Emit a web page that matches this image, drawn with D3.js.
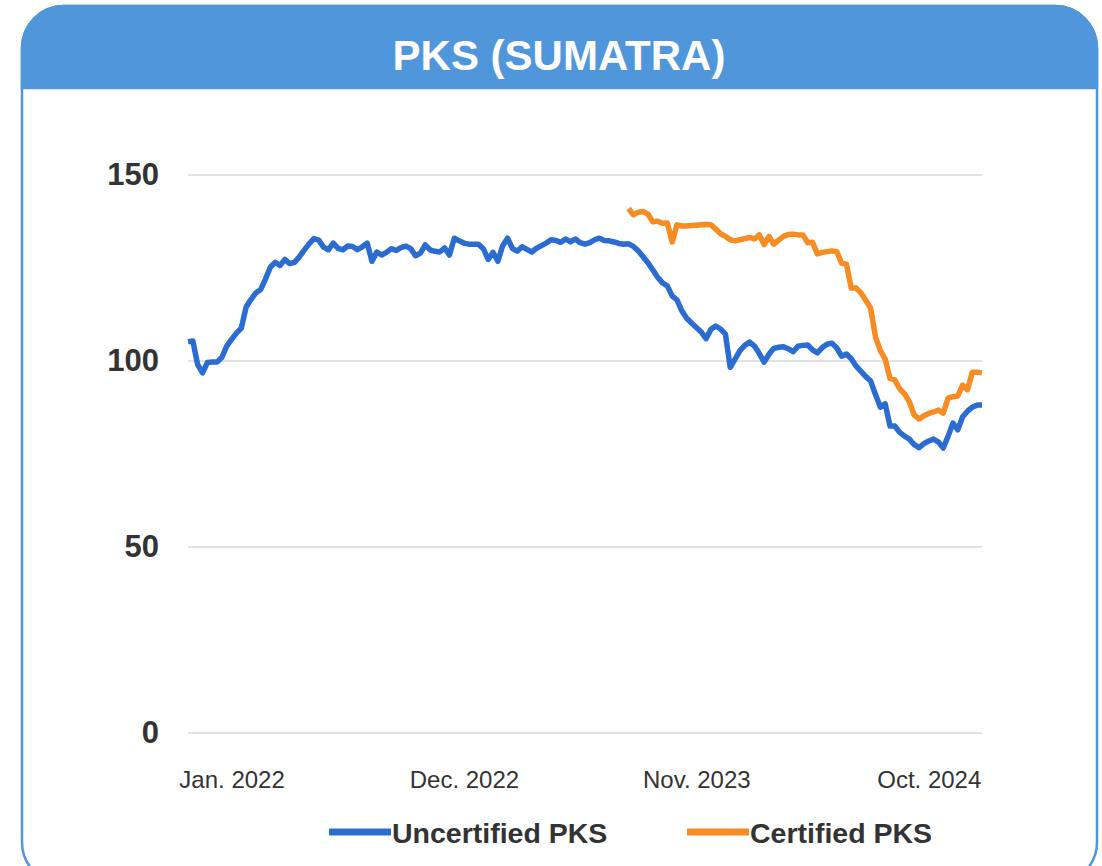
<!DOCTYPE html>
<html>
<head>
<meta charset="utf-8">
<script src="https://cdn.jsdelivr.net/npm/d3@7"></script>
<style>
  html, body { margin: 0; padding: 0; background: #ffffff; }
  svg { display: block; }
</style>
</head>
<body>
<div id="chart"></div>
<script>
// ---- DATA ----
const title = "PKS (SUMATRA)";
const seriesNames = ["Uncertified PKS", "Certified PKS"];
const firstWeek = "2021-11-01";           // weekly categories start
const weekCount = 165;
const tickIndices = [9, 57, 105, 153];
const tickLabels = ["Jan. 2022", "Dec. 2022", "Nov. 2023", "Oct. 2024"];
const yTicks = [0, 50, 100, 150];

const uncertified = [
  105.2, 105.4, 99, 96.8, 99.6, 99.7, 99.7, 101, 104, 105.8,
  107.5, 108.8, 114.5, 116.5, 118.3, 119.2, 122, 125.2, 126.5, 125.7,
  127.3, 126.2, 126.5, 128, 129.8, 131.5, 132.9, 132.5, 130.6, 129.9,
  131.7, 130.3, 129.9, 130.9, 130.8, 129.9, 130.7, 131.7, 126.8, 129.3,
  128.5, 129.2, 130.2, 129.7, 130.5, 130.9, 130.2, 128.3, 129, 131.2,
  129.9, 129.5, 129.3, 130.4, 128.5, 133, 132.3, 131.7, 131.4, 131.4,
  131.4, 130.2, 127.3, 129.2, 126.8, 131, 133, 130.3, 129.5, 130.7,
  130, 129.3, 130.3, 131, 131.7, 132.6, 132.4, 131.9, 132.8, 132,
  132.8, 131.8, 131.4, 131.8, 132.6, 133, 132.4, 132.3, 132, 131.6,
  131.4, 131.5, 130.8, 129.6, 128, 126.4, 124.5, 122.5, 121, 120.2,
  117.5, 116.4, 113.5, 111.5, 110.2, 109, 107.8, 106, 108.5, 109.4,
  108.6, 107.2, 98.3, 100.5, 102.8, 104.2, 105.1, 104, 102, 99.7,
  101.8, 103.4, 103.7, 103.8, 103.3, 102.5, 104, 104.2, 104.3, 103,
  102.2, 103.6, 104.5, 104.8, 103.5, 101.3, 101.9, 100.6, 98.6, 97.2,
  95.8, 94.6, 91, 87.6, 88.5, 82.5, 82.5, 80.8, 79.8, 79,
  77.5, 76.7, 77.8, 78.5, 79, 78.2, 76.6, 79.8, 83.3, 81.5,
  85, 86.5, 87.6, 88.2, 88.2
];

const certifiedStart = 91;   // first week with a certified price
const certified = [
  141, 139.3, 140, 140.2, 139.5, 137.4, 137.6, 137, 137.1,
  132, 136.6, 136.3, 136.3, 136.4, 136.5, 136.6, 136.7, 136.6, 135.5,
  134.2, 133.5, 132.6, 132.3, 132.6, 132.9, 133.2, 132.8, 133.9, 131.3,
  133.5, 131.4, 132.5, 133.5, 134, 134.1, 133.9, 133.9, 131.8, 131.9,
  128.8, 129.2, 129.4, 129.6, 129.4, 126.3, 126, 119.6, 119.6, 118.3,
  116.3, 114.2, 106.5, 102.8, 100.5, 95.3, 94.9, 92.5, 91.2, 89,
  85.5, 84.4, 85.3, 85.9, 86.3, 86.8, 86, 90, 90.4, 90.6,
  93.5, 92.3, 97, 97, 96.8
];

const colors = ["#2B6CD0", "#F68C22"];

// ---- BUILD ----
const W = 1102, H = 866;
const weeks = d3.timeWeek.every(1).range(new Date(firstWeek + "T00:00:00"),
  d3.timeDay.offset(new Date(firstWeek + "T00:00:00"), weekCount * 7));
const fmt = d3.timeFormat("%Y-%m-%d");
const cats = weeks.slice(0, weekCount).map(fmt);

const rows = cats.map((c, i) => ({
  cat: c,
  u: uncertified[i],
  c: i >= certifiedStart ? certified[i - certifiedStart] : null
}));

const svg = d3.select("#chart").append("svg")
  .attr("width", W).attr("height", H);

const font = "'Liberation Sans', Arial, Helvetica, sans-serif";
const textCol = "#333333";

// card
const cardX = 22, cardY = 6, cardW = 1075, cardH = 878, r = 42, headH = 82;
svg.append("rect")
  .attr("x", cardX).attr("y", cardY).attr("width", cardW).attr("height", cardH)
  .attr("rx", r).attr("ry", r)
  .attr("fill", "#ffffff").attr("stroke", "#5096DA").attr("stroke-width", 2.5);

// header with rounded top corners
const hp = d3.path();
hp.moveTo(cardX, cardY + headH);
hp.lineTo(cardX, cardY + r);
hp.arcTo(cardX, cardY, cardX + r, cardY, r);
hp.lineTo(cardX + cardW - r, cardY);
hp.arcTo(cardX + cardW, cardY, cardX + cardW, cardY + r, r);
hp.lineTo(cardX + cardW, cardY + headH);
hp.closePath();
svg.append("path").attr("d", hp.toString()).attr("fill", "#5096DA")
  .attr("stroke", "#5096DA").attr("stroke-width", 2.5);

svg.append("text")
  .attr("x", 559).attr("y", 70)
  .attr("text-anchor", "middle")
  .attr("font-family", font).attr("font-weight", "bold")
  .attr("font-size", 42).attr("fill", "#ffffff")
  .text(title);

// scales
const x = d3.scalePoint().domain(cats).range([188, 982]);
const y = d3.scaleLinear().domain([0, 150]).range([733, 175]);

// gridlines
svg.append("g")
  .selectAll("line").data(yTicks).join("line")
  .attr("x1", 188).attr("x2", 982)
  .attr("y1", d => y(d)).attr("y2", d => y(d))
  .attr("stroke", "#D9D9D9").attr("stroke-width", 1.3);

// y axis
const yAxis = svg.append("g")
  .attr("transform", "translate(159,0)")
  .call(d3.axisLeft(y).tickValues(yTicks).tickSize(0).tickPadding(0));
yAxis.select(".domain").remove();
yAxis.selectAll("text")
  .attr("font-family", font).attr("font-weight", "bold")
  .attr("font-size", 31).attr("fill", textCol);

// x axis
const xAxis = svg.append("g")
  .attr("transform", "translate(0,771)")
  .call(d3.axisBottom(x)
    .tickValues(tickIndices.map(i => cats[i]))
    .tickFormat((d, i) => tickLabels[i])
    .tickSize(0).tickPadding(0));
xAxis.select(".domain").remove();
xAxis.selectAll("text")
  .attr("font-family", font).attr("font-size", 24).attr("fill", textCol);

// lines
const lineU = d3.line().x(d => x(d.cat)).y(d => y(d.u));
const lineC = d3.line().defined(d => d.c != null).x(d => x(d.cat)).y(d => y(d.c));

svg.append("path").datum(rows)
  .attr("d", lineU).attr("fill", "none")
  .attr("stroke", colors[0]).attr("stroke-width", 5.5)
  .attr("stroke-linejoin", "round").attr("stroke-linecap", "butt");
svg.append("path").datum(rows)
  .attr("d", lineC).attr("fill", "none")
  .attr("stroke", colors[1]).attr("stroke-width", 5.5)
  .attr("stroke-linejoin", "round").attr("stroke-linecap", "butt");

// legend
const legendItems = [
  { name: seriesNames[0], color: colors[0], x1: 329, x2: 391 },
  { name: seriesNames[1], color: colors[1], x1: 687, x2: 749 }
];
const lg = svg.append("g");
legendItems.forEach(it => {
  lg.append("line").attr("x1", it.x1).attr("x2", it.x2)
    .attr("y1", 832).attr("y2", 832)
    .attr("stroke", it.color).attr("stroke-width", 7);
  lg.append("text").attr("x", it.x2 + 1).attr("y", 843)
    .attr("font-family", font).attr("font-weight", "bold")
    .attr("font-size", 28.5).attr("fill", textCol)
    .text(it.name);
});
</script>
</body>
</html>
